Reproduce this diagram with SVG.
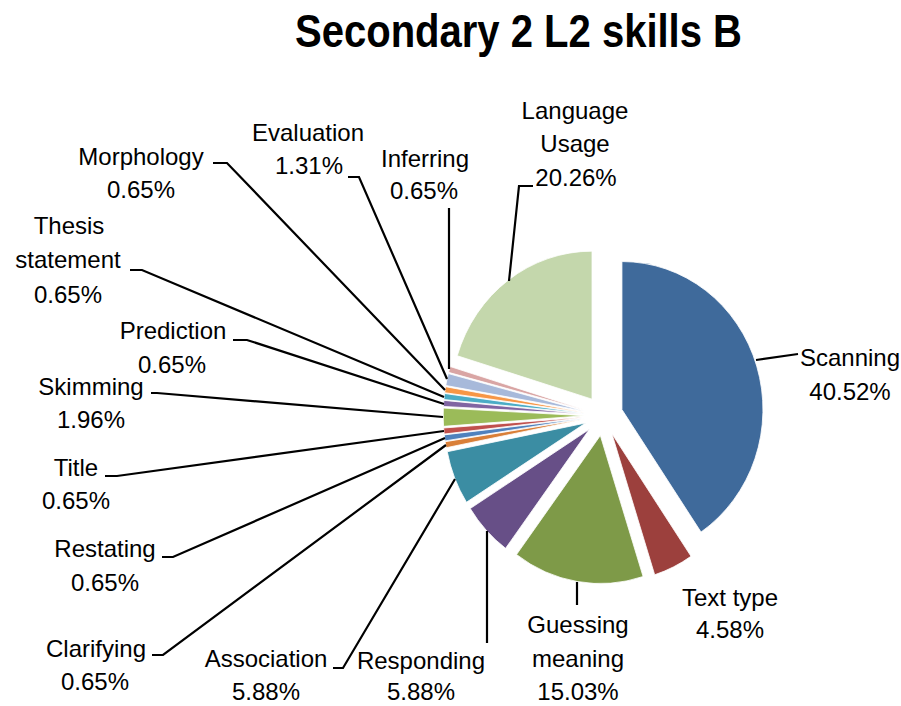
<svg xmlns="http://www.w3.org/2000/svg" width="901" height="706" viewBox="0 0 901 706">
<style>
.t{font-family:"Liberation Sans",Arial,sans-serif;font-size:24px;fill:#000;text-anchor:middle}
.h{font-family:"Liberation Sans",Arial,sans-serif;font-size:46px;font-weight:bold;fill:#000;text-anchor:middle}
.s{stroke:#fff;stroke-width:0.8}
.l{fill:none;stroke:#000;stroke-width:2.2;stroke-linejoin:miter}
</style>
<rect width="901" height="706" fill="#fff"/>
<text class="h" x="518.5" y="47" textLength="447" lengthAdjust="spacingAndGlyphs">Secondary 2 L2 skills B</text>
<g id="slices">
<g id="scanning"><path class="s" fill="#3F6A9B" d="M621.95,409.54 L621.95,261.54 A141,148 0 0 1 701.02,532.07 Z"/></g>
<g id="text-type"><path class="s" fill="#9C403D" d="M611.93,433.76 L691.00,556.29 A141,148 0 0 1 654.68,574.79 Z"/></g>
<g id="guessing-meaning"><path class="s" fill="#7E9A48" d="M600.34,435.53 L643.09,576.56 A141,148 0 0 1 516.53,554.55 Z"/></g>
<g id="responding"><path class="s" fill="#674F87" d="M589.37,429.33 L505.56,548.35 A141,148 0 0 1 470.24,508.52 Z"/></g>
<g id="association"><path class="s" fill="#3B8DA3" d="M585.58,423.03 L466.45,502.22 A141,148 0 0 1 447.26,451.73 Z"/></g>
<g id="clarifying"><path class="s" fill="#D97F38" d="M584.49,419.02 L446.17,447.72 A141,148 0 0 1 445.15,441.72 Z"/></g>
<g id="restating"><path class="s" fill="#4F81BD" d="M584.37,418.20 L445.03,440.90 A141,148 0 0 1 444.27,434.88 Z"/></g>
<g id="title"><path class="s" fill="#C0504D" d="M584.28,417.37 L444.18,434.05 A141,148 0 0 1 443.65,428.00 Z"/></g>
<g id="skimming"><path class="s" fill="#9BBB59" d="M584.20,415.71 L443.57,426.34 A141,148 0 0 1 443.38,408.12 Z"/></g>
<g id="prediction"><path class="s" fill="#8064A2" d="M584.25,414.04 L443.43,406.45 A141,148 0 0 1 443.86,400.38 Z"/></g>
<g id="thesis-statement"><path class="s" fill="#4BACC6" d="M584.32,413.21 L443.93,399.55 A141,148 0 0 1 444.57,393.51 Z"/></g>
<g id="morphology"><path class="s" fill="#F79646" d="M584.43,412.39 L444.68,392.69 A141,148 0 0 1 445.57,386.70 Z"/></g>
<g id="evaluation"><path class="s" fill="#A7B9DA" d="M584.65,411.16 L445.79,385.47 A141,148 0 0 1 448.27,373.58 Z"/></g>
<g id="inferring"><path class="s" fill="#D9A5A4" d="M584.94,409.94 L448.56,372.36 A141,148 0 0 1 450.14,366.52 Z"/></g>
<g id="language-usage"><path class="s" fill="#C4D7AC" d="M592.03,399.17 L457.23,355.75 A141,148 0 0 1 592.03,251.17 Z"/></g>
</g>
<g id="connectors">
<path class="l" d="M756,360 L798,354"/>
<path class="l" d="M533,186 L519,186 L509,281"/>
<path class="l" d="M449,208 L449,369"/>
<path class="l" d="M348,177 L359,177 L447,379"/>
<path class="l" d="M213,163 L227,163 L445,390"/>
<path class="l" d="M130,270 L142,270 L444,397"/>
<path class="l" d="M233,340 L247,340 L444,404"/>
<path class="l" d="M151,393 L157,393 L443,417"/>
<path class="l" d="M105,476 L117,476 L444,431"/>
<path class="l" d="M162,557 L173,557 L445,438"/>
<path class="l" d="M152,655 L163,655 L446,445"/>
<path class="l" d="M333,668 L343,668 L455,479"/>
<path class="l" d="M487,643 L487,531"/>
<path class="l" d="M577,605 L577,582"/>
</g>
<g id="labels">
<g id="lbl-scanning"><text class="t" x="850" y="366">Scanning</text><text class="t" x="850" y="400">40.52%</text></g>
<g id="lbl-text-type"><text class="t" x="730" y="606">Text type</text><text class="t" x="730" y="638">4.58%</text></g>
<g id="lbl-guessing"><text class="t" x="578" y="633">Guessing</text><text class="t" x="578" y="667">meaning</text><text class="t" x="578" y="700">15.03%</text></g>
<g id="lbl-responding"><text class="t" x="421" y="669">Responding</text><text class="t" x="421" y="700">5.88%</text></g>
<g id="lbl-association"><text class="t" x="266" y="667">Association</text><text class="t" x="266" y="700">5.88%</text></g>
<g id="lbl-clarifying"><text class="t" x="96" y="657">Clarifying</text><text class="t" x="95" y="690">0.65%</text></g>
<g id="lbl-restating"><text class="t" x="105" y="557">Restating</text><text class="t" x="105" y="591">0.65%</text></g>
<g id="lbl-title"><text class="t" x="76" y="476">Title</text><text class="t" x="76" y="509">0.65%</text></g>
<g id="lbl-skimming"><text class="t" x="91" y="395">Skimming</text><text class="t" x="91" y="428">1.96%</text></g>
<g id="lbl-prediction"><text class="t" x="173" y="339">Prediction</text><text class="t" x="172" y="373">0.65%</text></g>
<g id="lbl-thesis"><text class="t" x="69" y="234">Thesis</text><text class="t" x="68" y="268">statement</text><text class="t" x="68" y="303">0.65%</text></g>
<g id="lbl-morphology"><text class="t" x="141" y="165">Morphology</text><text class="t" x="141" y="198">0.65%</text></g>
<g id="lbl-evaluation"><text class="t" x="308" y="141">Evaluation</text><text class="t" x="309" y="174">1.31%</text></g>
<g id="lbl-inferring"><text class="t" x="425" y="167">Inferring</text><text class="t" x="424" y="199">0.65%</text></g>
<g id="lbl-language"><text class="t" x="575" y="119">Language</text><text class="t" x="575" y="152">Usage</text><text class="t" x="576" y="186">20.26%</text></g>
</g>
</svg>
